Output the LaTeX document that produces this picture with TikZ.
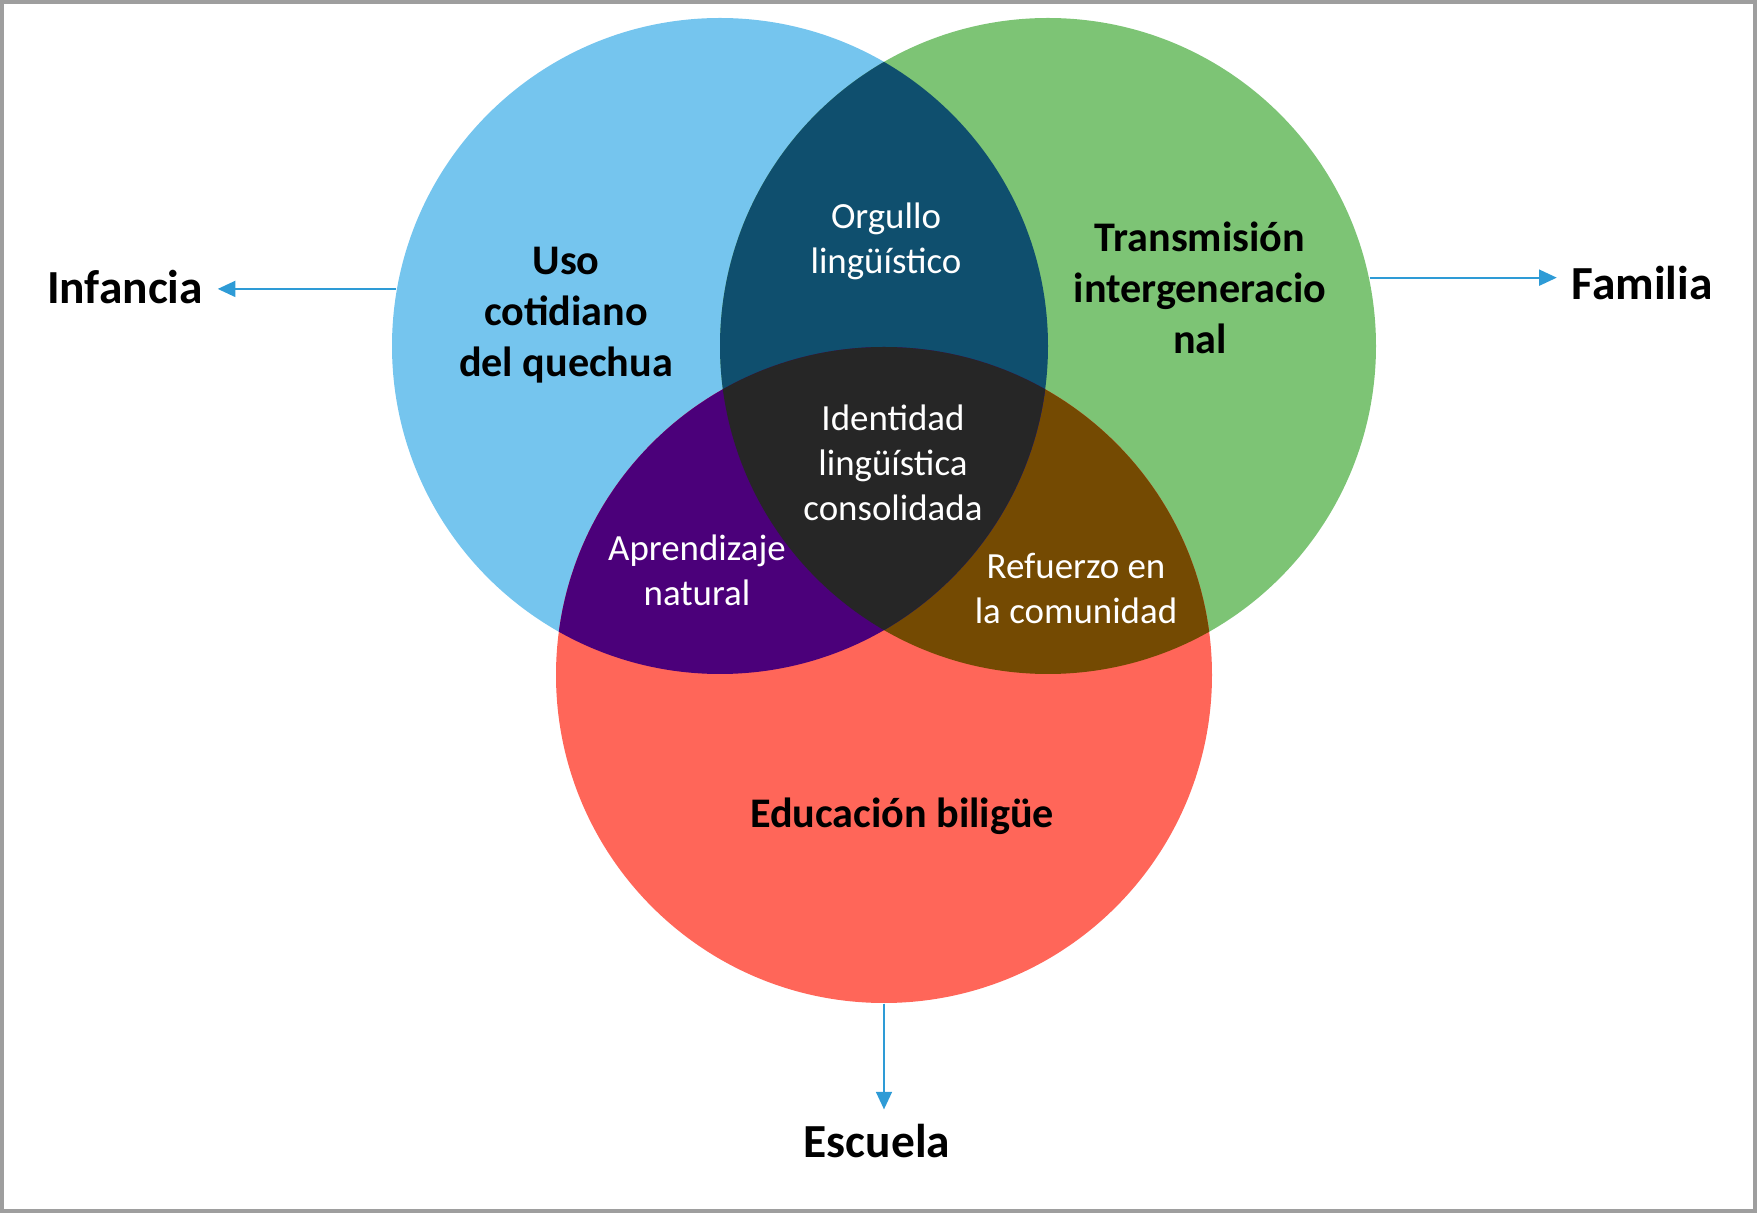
\documentclass[tikz,border=0pt]{standalone}
\usepackage{fontspec}
\setmainfont{Carlito}
\usepackage{tikz}
\usetikzlibrary{arrows.meta, positioning}
\definecolor{azul}{HTML}{75C5EE}
\definecolor{verde}{HTML}{7DC475}
\definecolor{rojo}{HTML}{FF6659}
\definecolor{azulosc}{HTML}{0F4F6E}
\definecolor{morado}{HTML}{4B007A}
\definecolor{cafe}{HTML}{744A02}
\definecolor{centro}{HTML}{262626}
\definecolor{flecha}{HTML}{2E9BD6}
\tikzset{
  conjunto/.style={circle, minimum size=6.56cm, inner sep=0pt},
  titulo/.style={font=\fontsize{12}{14.6}\selectfont\bfseries, align=center},
  cruce/.style={font=\fontsize{10.5}{12.8}\selectfont, text=white, align=center},
  etiqueta/.style={font=\fontsize{13.5}{16}\selectfont\bfseries, inner sep=4pt},
  flechita/.style={-{Triangle[length=5pt,width=4.5pt]}, draw=flecha, fill=flecha, line width=0.6pt}
}

\begin{document}
\begin{tikzpicture}
        \useasboundingbox (0,0) rectangle (17.57,-12.13);
        \draw[black!38, line width=0.9pt] (0.02,-0.02) rectangle (17.55,-12.11);

        \node[conjunto, fill=azul] (uso) at (7.20,-3.46) {};
        \node[conjunto, fill=verde] (trans) at (10.48,-3.46) {};
        \node[conjunto, fill=rojo] (edu) at (8.84,-6.75) {};

        % intersecciones
        \begin{scope}
        \clip (trans.center) circle (3.28);
        \fill[cafe] (edu.center) circle (3.28);
        \end{scope}
        \begin{scope}
        \clip (uso.center) circle (3.28);
        \fill[azulosc] (trans.center) circle (3.28);
        \fill[morado] (edu.center) circle (3.28);
        \clip (trans.center) circle (3.28);
        \fill[centro] (edu.center) circle (3.28);
        \end{scope}

        \node[titulo] (tuso) at (5.66,-3.15) {Uso\\cotidiano\\del quechua};
        \node[titulo] (ttrans) at (12.00,-2.88) {Transmisión\\intergeneracio\\nal};
        \node[titulo] (tedu) at (9.02,-8.16) {Educación biligüe};

        \node[cruce] (orgullo) at (8.86,-2.41) {Orgullo\\lingüístico};
        \node[cruce] (identidad) at (8.93,-4.63) {Identidad\\lingüística\\consolidada};
        \node[cruce] (aprend) at (6.97,-5.70) {Aprendizaje\\natural};
        \node[cruce] (refuerzo) at (10.76,-5.88) {Refuerzo en\\la comunidad};

        \node[etiqueta] (infancia) at (1.25,-2.87) {Infancia};
        \node[etiqueta] (familia) at (16.42,-2.83) {Familia};
        \node[etiqueta] (escuela) at (8.77,-11.41) {Escuela};

        \draw[flechita] (uso.170) -- (uso.170 -| infancia.east);
        \draw[flechita] (trans.12) -- (trans.12 -| familia.west);
        \draw[flechita] (edu.south) -- (edu.south |- escuela.north);
\end{tikzpicture}
\end{document}
